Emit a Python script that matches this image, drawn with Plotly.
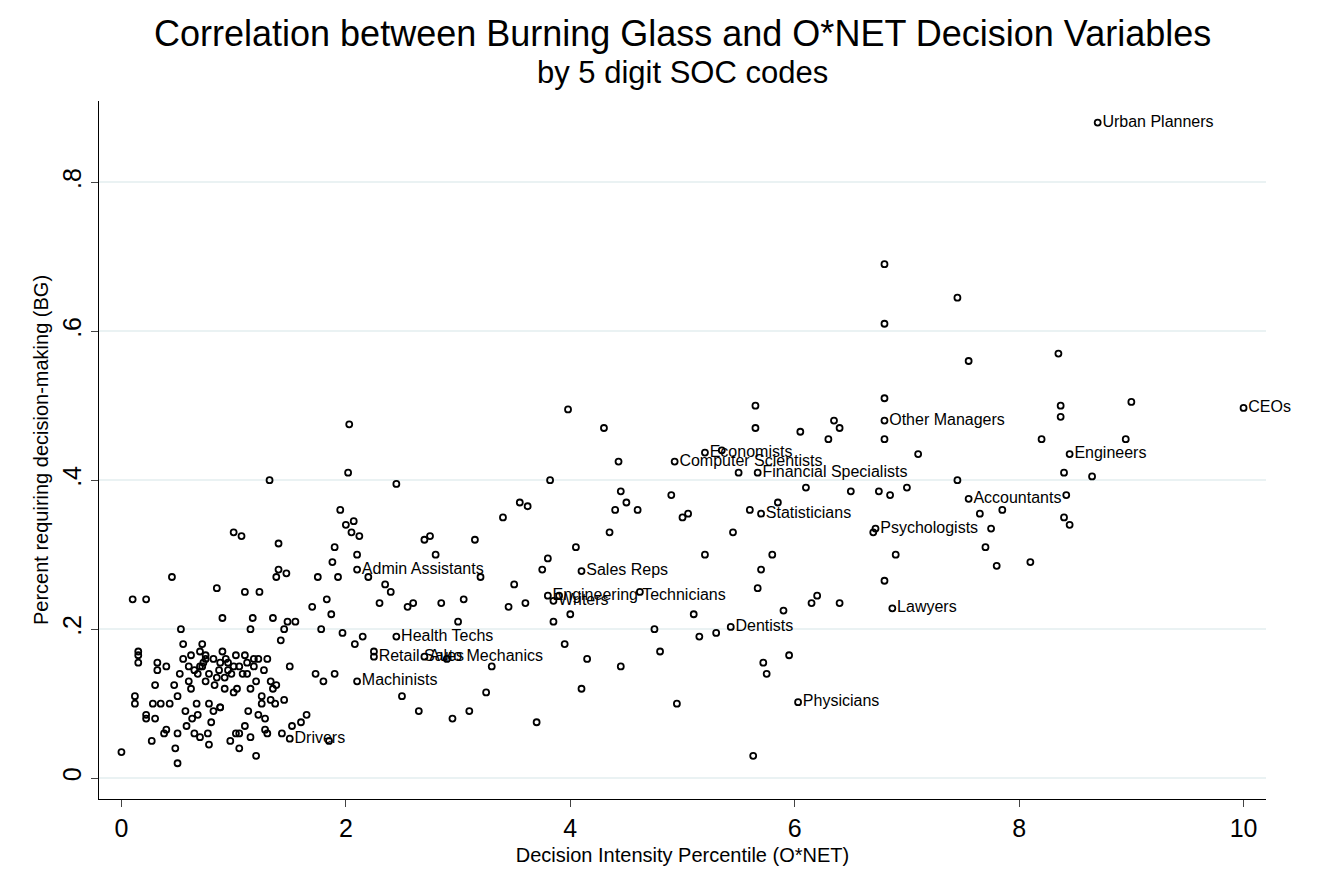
import plotly.graph_objects as go

bg_x = [0,0.1,0.12,0.12,0.15,0.15,0.15,0.22,0.22,0.22,0.27,0.28,0.3,0.3,0.32,0.32,0.35,0.38,0.4,0.4,0.43,0.45,0.47,0.48,0.5,0.5,0.5,0.52,0.53,0.55,0.55,0.57,0.6,0.6,0.62,0.63,0.65,0.67,0.68,0.7,0.7,0.72,0.73,0.75,0.75,0.77,0.78,0.78,0.8,0.82,0.83,0.85,0.87,0.88,0.88,0.9,0.9,0.92,0.93,0.95,0.97,0.98,1.0,1.0,1.02,1.03,1.05,1.05,1.07,1.08,1.1,1.1,1.12,1.13,1.15,1.15,1.17,1.18,1.2,1.2,1.22,1.23,1.25,1.27,1.28,1.3,1.3,1.32,1.33,1.35,1.35,1.37,1.38,1.4,1.4,1.42,1.43,1.45,1.47,1.48,1.5,1.52,1.55,1.6,1.65,1.7,1.73,1.75,1.78,1.8,1.83,1.85,1.87,1.88,1.9,1.9,1.93,1.95,1.97,2.0,2.02,2.03,2.05,2.07,2.08,2.1,2.12,2.15,2.2,2.25,2.3,2.35,2.4,2.45,2.5,2.55,2.6,2.65,2.7,2.75,2.8,2.85,2.9,2.95,3.0,3.05,3.1,3.15,3.2,3.25,3.3,3.4,3.45,3.5,3.55,3.6,3.62,3.7,3.75,3.8,3.82,3.85,3.9,3.95,3.98,4.0,4.05,4.1,4.15,4.3,4.35,4.4,4.43,4.45,4.45,4.5,4.6,4.62,4.75,4.8,4.9,4.95,5.0,5.05,5.1,5.15,5.2,5.3,5.35,5.45,5.5,5.6,5.63,5.65,5.65,5.67,5.7,5.72,5.75,5.8,5.85,5.9,5.95,6.05,6.1,6.15,6.2,6.3,6.35,6.4,6.4,6.5,6.7,6.75,6.8,6.8,6.8,6.8,6.8,6.85,6.9,7.0,7.1,7.45,7.45,7.55,7.65,7.7,7.75,7.8,7.85,8.1,8.2,8.35,8.37,8.37,8.4,8.4,8.42,8.45,8.65,8.95,9.0,
        0.65,0.72,0.78,0.85,0.95,1.05,1.12,1.18,1.25,1.33,0.58,0.68,0.92,1.0,1.1,1.22,1.38,0.75,0.88,1.15,0.62,1.45,1.02,0.7,0.82,1.28]
bg_y = [0.035,0.24,0.11,0.1,0.17,0.165,0.155,0.24,0.085,0.08,0.05,0.1,0.08,0.125,0.145,0.155,0.1,0.06,0.065,0.15,0.1,0.27,0.125,0.04,0.02,0.06,0.11,0.14,0.2,0.16,0.18,0.09,0.13,0.15,0.12,0.08,0.06,0.1,0.14,0.15,0.17,0.18,0.155,0.16,0.13,0.06,0.045,0.1,0.075,0.16,0.125,0.255,0.145,0.095,0.155,0.17,0.215,0.135,0.16,0.155,0.05,0.14,0.15,0.33,0.165,0.12,0.06,0.04,0.325,0.14,0.25,0.165,0.155,0.09,0.055,0.2,0.215,0.15,0.03,0.13,0.16,0.25,0.1,0.145,0.08,0.06,0.16,0.4,0.13,0.215,0.12,0.1,0.27,0.28,0.315,0.185,0.06,0.2,0.275,0.21,0.15,0.07,0.21,0.075,0.085,0.23,0.14,0.27,0.2,0.13,0.24,0.05,0.22,0.29,0.31,0.14,0.27,0.36,0.195,0.34,0.41,0.475,0.33,0.345,0.18,0.3,0.325,0.19,0.27,0.17,0.235,0.26,0.25,0.395,0.11,0.23,0.235,0.09,0.32,0.325,0.3,0.235,0.16,0.08,0.21,0.24,0.09,0.32,0.27,0.115,0.15,0.35,0.23,0.26,0.37,0.235,0.365,0.075,0.28,0.295,0.4,0.21,0.245,0.18,0.495,0.22,0.31,0.12,0.16,0.47,0.33,0.36,0.425,0.385,0.15,0.37,0.36,0.25,0.2,0.17,0.38,0.1,0.35,0.355,0.22,0.19,0.3,0.195,0.44,0.33,0.41,0.36,0.03,0.5,0.47,0.255,0.28,0.155,0.14,0.3,0.37,0.225,0.165,0.465,0.39,0.235,0.245,0.455,0.48,0.47,0.235,0.385,0.33,0.385,0.69,0.61,0.51,0.455,0.265,0.38,0.3,0.39,0.435,0.645,0.4,0.56,0.355,0.31,0.335,0.285,0.36,0.29,0.455,0.57,0.5,0.485,0.41,0.35,0.38,0.34,0.405,0.455,0.505,
        0.145,0.15,0.14,0.135,0.145,0.15,0.14,0.16,0.11,0.105,0.07,0.085,0.12,0.115,0.07,0.085,0.125,0.165,0.095,0.12,0.165,0.105,0.06,0.055,0.09,0.065]

lab_names = ["Urban Planners","CEOs","Engineers","Other Managers","Accountants","Psychologists","Lawyers","Financial Specialists","Statisticians","Computer Scientists","Economists","Physicians","Dentists","Sales Reps","Engineering Technicians","Writers","Admin Assistants","Health Techs","Retail Sales","Auto Mechanics","Machinists","Drivers"]
lab_x = [8.7,10.0,8.45,6.8,7.55,6.72,6.87,5.67,5.7,4.93,5.2,6.03,5.43,4.1,3.8,3.85,2.1,2.45,2.25,2.7,2.1,1.5]
lab_y = [0.88,0.497,0.435,0.48,0.375,0.335,0.228,0.41,0.355,0.425,0.437,0.102,0.203,0.278,0.245,0.238,0.28,0.19,0.163,0.163,0.13,0.053]

title_main = "Correlation between Burning Glass and O*NET Decision Variables"
title_sub = "by 5 digit SOC codes"

mk = dict(symbol="circle-open", size=6, color="black", line=dict(width=1.8, color="black"))
fig = go.Figure()
fig.add_trace(go.Scatter(x=bg_x, y=bg_y, mode="markers", marker=mk, hoverinfo="skip", cliponaxis=False))
fig.add_trace(go.Scatter(x=lab_x, y=lab_y, mode="markers+text", marker=mk, text=lab_names, cliponaxis=False,
                         textposition="middle right", textfont=dict(size=16, color="black")))
fig.add_annotation(text=title_main, xref="paper", yref="paper", x=0.5, y=1.097, xanchor="center", yanchor="middle",
                   showarrow=False, font=dict(size=36))
fig.add_annotation(text=title_sub, xref="paper", yref="paper", x=0.5, y=1.041, xanchor="center", yanchor="middle",
                   showarrow=False, font=dict(size=31))
fig.update_layout(
    width=1326, height=888, showlegend=False,
    paper_bgcolor="white", plot_bgcolor="white",
    font=dict(family="Liberation Sans, Arial", color="black"),
    margin=dict(l=91, r=68, t=93, b=97),
    xaxis=dict(range=[-0.2, 10.2], tickvals=[0,2,4,6,8,10], showgrid=False, zeroline=False,
               showline=True, linecolor="black", ticks="outside", ticklen=7,
               tickfont=dict(size=25), title=dict(text="Decision Intensity Percentile (O*NET)", font=dict(size=20), standoff=6)),
    yaxis=dict(range=[-0.028, 0.909], tickvals=[0,0.2,0.4,0.6,0.8], ticktext=["0",".2",".4",".6",".8"],
               showgrid=True, gridcolor="#eaf2f3", gridwidth=1.5, zeroline=False,
               showline=True, linecolor="black", ticks="outside", ticklen=7,
               tickangle=-90, tickfont=dict(size=25),
               title=dict(text="Percent requiring decision-making (BG)", font=dict(size=20), standoff=4)),
)
fig.write_html("out.html")
